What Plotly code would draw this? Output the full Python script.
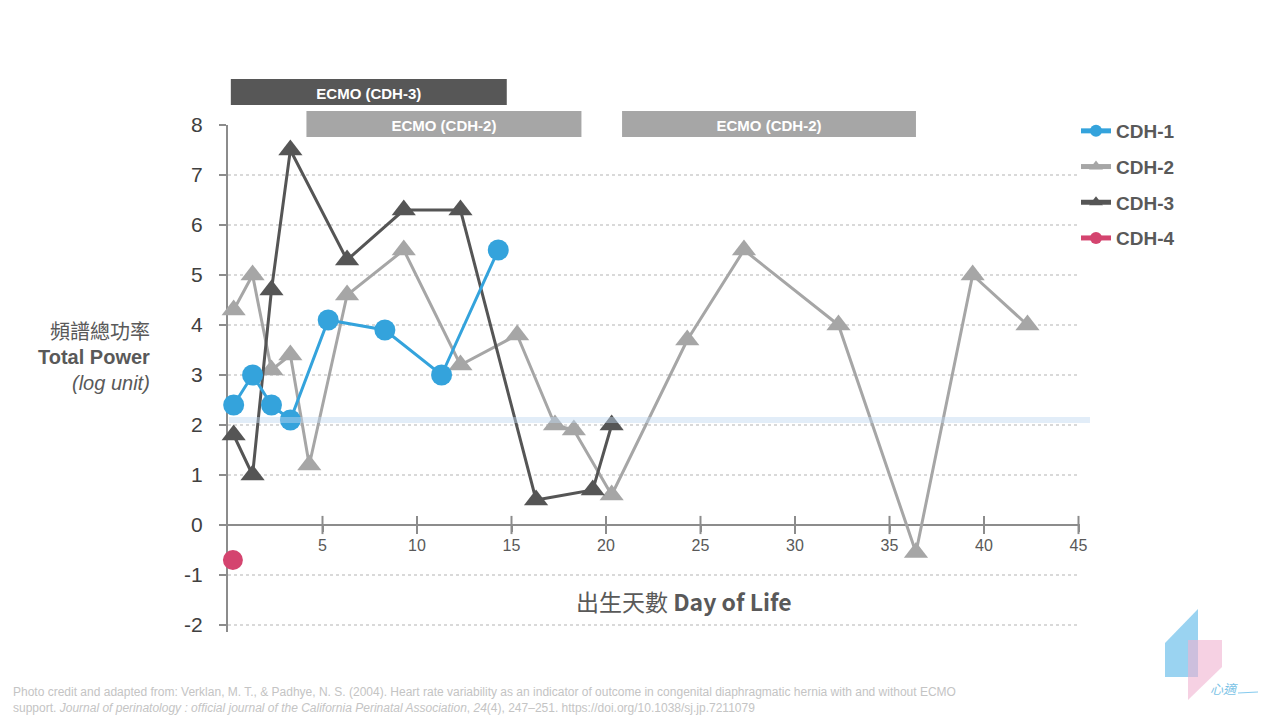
import plotly.graph_objects as go

# ---------------- data ----------------
cdh1_x = [0.3, 1.3, 2.3, 3.3, 5.3, 8.3, 11.3, 14.3]
cdh1_y = [2.4, 3.0, 2.4, 2.1, 4.1, 3.9, 3.0, 5.5]

cdh2_x = [0.3, 1.3, 2.3, 3.3, 4.3, 6.3, 9.3, 12.3, 15.3, 17.3, 18.3, 20.3, 24.3, 27.3, 32.3, 36.4, 39.4, 42.3]
cdh2_y = [4.3, 5.0, 3.1, 3.4, 1.2, 4.6, 5.5, 3.2, 3.8, 2.0, 1.9, 0.6, 3.7, 5.5, 4.0, -0.55, 5.0, 4.0]

cdh3_x = [0.3, 1.3, 2.3, 3.3, 6.3, 9.3, 12.3, 16.3, 19.3, 20.3]
cdh3_y = [1.8, 1.0, 4.7, 7.5, 5.3, 6.3, 6.3, 0.5, 0.7, 2.0]

cdh4_x = [0.26]
cdh4_y = [-0.7]

reference_level = 2.1

# ECMO periods (day start, day end)
ecmo_cdh3 = [(0.15, 14.75)]
ecmo_cdh2 = [(4.15, 18.7), (20.85, 36.4)]

x_ticks = [5, 10, 15, 20, 25, 30, 35, 40, 45]
y_ticks = [-2, -1, 0, 1, 2, 3, 4, 5, 6, 7, 8]
y_ticktext = [str(v) for v in y_ticks]

# ---------------- layout geometry ----------------
OFF = 8                      # page offset of the figure inside the browser window
FW, FH = 1280 - OFF, 720 - OFF
L, T, W, H = 228 - OFF, 125 - OFF, 852, 507
X_RANGE = [0, 852 / 18.9]
Y_RANGE = [8 - 507 / 50, 8]


def xp(px):
    return (px - OFF - L) / W


def yp(py):
    return (T + H - (py - OFF)) / H


FONT = "Liberation Sans, Arial, sans-serif"
CJK = "Noto Sans CJK TC, Liberation Sans, sans-serif"
TXT = "#595959"
AX = "#8c8c8c"

fig = go.Figure()

fig.add_trace(go.Scatter(
    x=cdh2_x, y=cdh2_y, name="CDH-2", mode="lines+markers", legendgroup="g2", legendrank=2,
    line=dict(color="#a6a6a6", width=3),
    marker=dict(symbol="triangle-up", size=21, color="#a6a6a6"), cliponaxis=False))
fig.add_trace(go.Scatter(
    x=cdh3_x, y=cdh3_y, name="CDH-3", mode="lines+markers", legendgroup="g3", legendrank=3,
    line=dict(color="#555555", width=3),
    marker=dict(symbol="triangle-up", size=21, color="#555555"), cliponaxis=False))
fig.add_trace(go.Scatter(
    x=cdh1_x, y=cdh1_y, name="CDH-1", mode="lines+markers", legendgroup="g1", legendrank=1,
    line=dict(color="#34a3dc", width=3),
    marker=dict(symbol="circle", size=21, color="#34a3dc"), cliponaxis=False))
fig.add_trace(go.Scatter(
    x=cdh4_x, y=cdh4_y, name="CDH-4", mode="lines+markers", legendgroup="g4", legendrank=4,
    line=dict(color="#d4446f", width=3),
    marker=dict(symbol="circle", size=20, color="#d4446f"), cliponaxis=False))

# crossing tick marks on the x axis
fig.add_trace(go.Scatter(
    x=x_ticks, y=[0] * len(x_ticks), mode="markers", showlegend=False, hoverinfo="skip",
    marker=dict(symbol="line-ns", size=13, line=dict(color=AX, width=2)), cliponaxis=False))

shapes = []
# reference band
shapes.append(dict(type="line", xref="paper", yref="y", x0=xp(229), x1=xp(1090),
                   y0=reference_level, y1=reference_level,
                   line=dict(color="rgba(190,216,240,0.45)", width=6), layer="above"))
# ECMO bars
for a, b in ecmo_cdh3:
    shapes.append(dict(type="rect", xref="x", yref="paper", x0=a, x1=b, y0=yp(105), y1=yp(79),
                       fillcolor="#575757", line=dict(width=0),
                       label=dict(text="<b>ECMO (CDH-3)</b>",
                                  font=dict(family=FONT, size=15, color="white"))))
for a, b in ecmo_cdh2:
    shapes.append(dict(type="rect", xref="x", yref="paper", x0=a, x1=b, y0=yp(137), y1=yp(111),
                       fillcolor="#a6a6a6", line=dict(width=0),
                       label=dict(text="<b>ECMO (CDH-2)</b>",
                                  font=dict(family=FONT, size=15, color="white"))))


# logo
def path(points):
    return "M " + " L ".join(f"{xp(a):.5f},{yp(b):.5f}" for a, b in points) + " Z"


shapes.append(dict(type="path", xref="paper", yref="paper",
                   path=path([(1165, 643), (1198, 609), (1198, 677), (1165, 677)]),
                   fillcolor="rgba(120,196,236,0.75)", line=dict(width=0)))
shapes.append(dict(type="path", xref="paper", yref="paper",
                   path=path([(1188, 640), (1222, 640), (1222, 667), (1188, 700)]),
                   fillcolor="rgba(240,178,208,0.6)", line=dict(width=0)))
shapes.append(dict(type="line", xref="paper", yref="paper", x0=xp(1238), x1=xp(1258),
                   y0=yp(693), y1=yp(692), line=dict(color="rgba(120,196,236,0.9)", width=1.2)))

annotations = [
    dict(text="頻譜總功率", x=xp(152), y=yp(330), xref="paper", yref="paper", xanchor="right",
         yanchor="middle", showarrow=False, font=dict(family=CJK, size=20, color=TXT)),
    dict(text="<b>Total Power</b>", x=xp(152), y=yp(357), xref="paper", yref="paper", xanchor="right",
         yanchor="middle", showarrow=False, font=dict(family=FONT, size=20, color=TXT)),
    dict(text="<i>(log unit)</i>", x=xp(152), y=yp(383), xref="paper", yref="paper", xanchor="right",
         yanchor="middle", showarrow=False, font=dict(family=FONT, size=20, color=TXT)),
    dict(text="出生天數 <b>Day of Life</b>", x=xp(684), y=yp(601), xref="paper", yref="paper",
         xanchor="center", yanchor="middle", showarrow=False,
         font=dict(family=CJK, size=23, color=TXT)),
    dict(text=("Photo credit and adapted from: Verklan, M. T., &amp; Padhye, N. S. (2004). Heart rate variability as an "
               "indicator of outcome in congenital diaphragmatic hernia with and without ECMO<br>support. "
               "<i>Journal of perinatology : official journal of the California Perinatal Association</i>, "
               "<i>24</i>(4), 247–251. https://doi.org/10.1038/sj.jp.7211079"),
         x=xp(11), y=yp(700), xref="paper", yref="paper", xanchor="left", yanchor="middle",
         align="left", showarrow=False, font=dict(family=FONT, size=12, color="#c4c4c4")),
    dict(text="<i>心適</i>", x=xp(1224), y=yp(688), xref="paper", yref="paper", xanchor="center",
         yanchor="middle", showarrow=False, font=dict(family=CJK, size=13, color="#7cc3e6")),
]

fig.update_layout(
    width=FW, height=FH,
    margin=dict(l=L, r=FW - L - W, t=T, b=FH - T - H, pad=0),
    paper_bgcolor="white", plot_bgcolor="white",
    font=dict(family=FONT, color=TXT),
    showlegend=True,
    legend=dict(x=xp(1076), y=yp(112), xanchor="left", yanchor="top",
                traceorder="grouped", tracegroupgap=8, itemsizing="constant", itemwidth=30,
                font=dict(family=FONT, size=19, color=TXT, weight="bold"),
                bgcolor="rgba(0,0,0,0)"),
    shapes=shapes,
    annotations=annotations,
    xaxis=dict(range=X_RANGE, anchor="free", position=(0 - Y_RANGE[0]) / (Y_RANGE[1] - Y_RANGE[0]),
               showline=True, linecolor=AX, linewidth=2, showgrid=False, zeroline=False,
               tickmode="array", tickvals=x_ticks, ticks="outside", ticklen=6, tickwidth=2,
               tickcolor=AX, tickfont=dict(family=FONT, size=16, color=TXT),
               layer="below traces", fixedrange=True),
    yaxis=dict(range=Y_RANGE, showline=True, linecolor=AX, linewidth=2, zeroline=False,
               tickmode="array", tickvals=y_ticks, ticktext=y_ticktext, ticks="outside",
               ticklen=7, tickwidth=2,
               tickcolor=AX, tickfont=dict(family=FONT, size=21, color="#404040"),
               ticklabelstandoff=12,
               showgrid=True, gridcolor="#d9d9d9", griddash="dot", gridwidth=1.5,
               layer="below traces", fixedrange=True),
)

fig.write_html("out.html")
